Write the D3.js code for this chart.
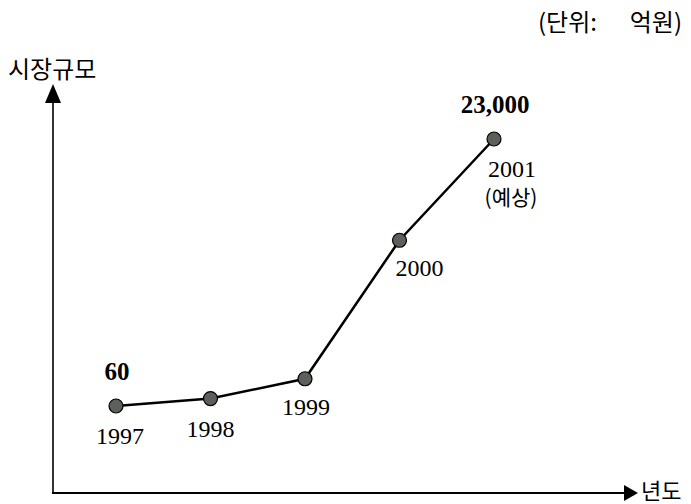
<!DOCTYPE html>
<html>
<head>
<meta charset="utf-8">
<script src="https://cdn.jsdelivr.net/npm/d3@7"></script>
<style>
  body { margin: 0; background: #fff; }
  svg { display: block; }
</style>
</head>
<body>
<div id="chart"></div>
<script>
// market size (unit: 100 million won) - intermediate values
let years = ["1997", "1998", "1999", "2000", "2001"];
let sizes = [60, 700, 2400, 14300, 23000];
let yearLabels = ["1997", "1998", "1999", "2000", "2001"];
let valueLabels = ["60", "", "", "", "23,000"];

let width = 691, height = 504;
let serif = "'Liberation Serif', 'Times New Roman', serif";
let kor = "'Noto Sans CJK KR', sans-serif";

let svg = d3.select("#chart")
    .append("svg")
    .attr("width", width)
    .attr("height", height);

let xScale = d3.scalePoint().domain(years).range([116, 494]);
let yScale = d3.scaleLinear().domain([60, 23000]).range([406, 139]);

// axes with arrow heads
svg.append("line")
    .attr("x1", 53).attr("y1", 493).attr("x2", 53).attr("y2", 100)
    .attr("stroke", "#333").attr("stroke-width", 2);
svg.append("path")
    .attr("d", "M53,84 L45,103 L61,103 Z")
    .attr("fill", "#000");
svg.append("line")
    .attr("x1", 52).attr("y1", 493).attr("x2", 626).attr("y2", 493)
    .attr("stroke", "#000").attr("stroke-width", 2);
svg.append("path")
    .attr("d", "M638,493 L624,485 L624,501 Z")
    .attr("fill", "#000");

svg.append("text")
    .attr("x", 8).attr("y", 78)
    .attr("font-family", kor).attr("font-size", 24)
    .text("시장규모");
svg.append("text")
    .attr("x", 641).attr("y", 499)
    .attr("font-family", kor).attr("font-size", 22)
    .text("년도");

// unit note, split in two parts to keep the gap after the colon
let unit = svg.append("text")
    .attr("y", 31)
    .attr("font-family", kor).attr("font-size", 24);
unit.append("tspan").attr("x", 538).text("(단위:");
unit.append("tspan").attr("x", 682).attr("text-anchor", "end").text("억원)");

// data line
let line = d3.line()
    .x(function(d, i) { return xScale(years[i]); })
    .y(function(d) { return yScale(d); });

svg.append("path")
    .datum(sizes)
    .attr("d", line)
    .attr("fill", "none")
    .attr("stroke", "#000")
    .attr("stroke-width", 2.5);

svg.selectAll("circle")
    .data(sizes)
    .enter()
    .append("circle")
    .attr("cx", function(d, i) { return xScale(years[i]); })
    .attr("cy", function(d) { return yScale(d); })
    .attr("r", 7)
    .attr("fill", "#5b605b")
    .attr("stroke", "#000")
    .attr("stroke-width", 1.2);

// year labels under points (last two shifted right)
let labelDx = [4, 0, 1, 20, 18];
let labelDy = [38, 38, 36, 36, 38];
svg.selectAll(".yearLabel")
    .data(sizes)
    .enter()
    .append("text")
    .attr("class", "yearLabel")
    .attr("x", function(d, i) { return xScale(years[i]) + labelDx[i]; })
    .attr("y", function(d, i) { return yScale(d) + labelDy[i]; })
    .attr("text-anchor", "middle")
    .attr("font-family", serif).attr("font-size", 24)
    .text(function(d, i) { return yearLabels[i]; });

svg.append("text")
    .attr("x", xScale("2001") + 17)
    .attr("y", yScale(23000) + 66)
    .attr("text-anchor", "middle")
    .attr("font-family", kor).attr("font-size", 21)
    .text("(예상)");

// bold value labels
svg.selectAll(".valueLabel")
    .data(sizes)
    .enter()
    .filter(function(d, i) { return valueLabels[i] != ""; })
    .append("text")
    .attr("class", "valueLabel")
    .attr("x", function(d) { return xScale(years[sizes.indexOf(d)]) + 1; })
    .attr("y", function(d) { return yScale(d) - 26; })
    .attr("text-anchor", "middle")
    .attr("font-family", serif).attr("font-size", 25).attr("font-weight", "bold")
    .text(function(d) { return valueLabels[sizes.indexOf(d)]; });
</script>
</body>
</html>
